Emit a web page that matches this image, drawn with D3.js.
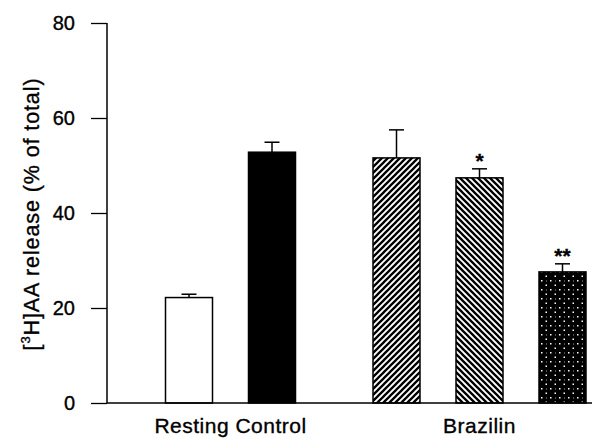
<!DOCTYPE html>
<html>
<head>
<meta charset="utf-8">
<script src="https://cdn.jsdelivr.net/npm/d3@7"></script>
<style>
  body { margin: 0; background: #fff; }
  svg { display: block; font-family: "Liberation Sans", Arial, sans-serif; }
  text { stroke: #000; stroke-width: 0.35px; }
</style>
</head>
<body>
<svg id="chart" width="592" height="439"></svg>
<script>
// values
var groups = ['Resting Control', 'Brazilin'];
var barGroup = ['Resting Control', 'Resting Control', 'Brazilin', 'Brazilin', 'Brazilin'];
var barValues = [22.2, 52.8, 51.6, 47.4, 27.6];
var barErrors = [0.7, 2.1, 5.9, 1.9, 1.7];
var barMarks = ['', '', '', '*', '**'];
var yTicks = [0, 20, 40, 60, 80];

var svg = d3.select('#chart');
var margin = { left: 107, top: 23, bottom: 36 };
var height = 439;

var y = d3.scaleLinear().domain([0, 80]).range([height - margin.bottom, margin.top]);
var x0 = d3.scaleBand().domain(groups).range([106, 604]);
var step = 83, barW = 47;

// patterns for the fills
var defs = svg.append('defs');
var p1 = defs.append('pattern').attr('id', 'hatchR')
  .attr('patternUnits', 'userSpaceOnUse').attr('width', 6).attr('height', 6);
p1.append('rect').attr('width', 6).attr('height', 6).attr('fill', '#fff');
p1.append('path').attr('d', 'M0,6 L6,0 M-1,1 L1,-1 M5,7 L7,5')
  .attr('stroke', '#000').attr('stroke-width', 2.3);

var p2 = defs.append('pattern').attr('id', 'hatchL')
  .attr('patternUnits', 'userSpaceOnUse').attr('width', 6).attr('height', 6);
p2.append('rect').attr('width', 6).attr('height', 6).attr('fill', '#fff');
p2.append('path').attr('d', 'M0,0 L6,6 M-1,5 L1,7 M5,-1 L7,1')
  .attr('stroke', '#000').attr('stroke-width', 2.3);

var p3 = defs.append('pattern').attr('id', 'dots')
  .attr('patternUnits', 'userSpaceOnUse').attr('width', 9).attr('height', 9);
p3.append('rect').attr('width', 9).attr('height', 9).attr('fill', '#000');
p3.append('rect').attr('x', 1).attr('y', 1).attr('width', 1.5).attr('height', 1.5).attr('fill', '#fff');
p3.append('rect').attr('x', 5.5).attr('y', 5.5).attr('width', 1.5).attr('height', 1.5).attr('fill', '#fff');
p3.append('rect').attr('x', 6).attr('y', 1.5).attr('width', 1).attr('height', 1).attr('fill', '#999');

var fills = ['#fff', '#000', 'url(#hatchR)', 'url(#hatchL)', 'url(#dots)'];

// x position of each bar centre
function barX(i) {
  var g = barGroup[i];
  var members = barGroup.map((d, j) => j).filter(j => barGroup[j] == g);
  var k = members.indexOf(i);
  var c = x0(g) + x0.bandwidth() / 2;
  return c + (k - (members.length - 1) / 2) * step;
}

var idx = d3.range(barValues.length);

svg.append('g').selectAll('rect')
  .data(idx)
  .enter()
  .append('rect')
  .attr('x', i => barX(i) - barW / 2)
  .attr('y', i => y(barValues[i]))
  .attr('width', barW)
  .attr('height', i => y(0) - y(barValues[i]))
  .attr('fill', i => fills[i])
  .attr('stroke', '#000')
  .attr('stroke-width', 1.5);

// error bars (upper only)
var eb = svg.append('g').attr('stroke', '#000').attr('stroke-width', 1.5);
idx.forEach(function(i) {
  var cx = barX(i);
  eb.append('line').attr('x1', cx).attr('x2', cx)
    .attr('y1', y(barValues[i])).attr('y2', y(barValues[i] + barErrors[i]));
  eb.append('line').attr('x1', cx - 7.5).attr('x2', cx + 7.5)
    .attr('y1', y(barValues[i] + barErrors[i])).attr('y2', y(barValues[i] + barErrors[i]));
});

// significance marks
svg.append('g').selectAll('text')
  .data(idx.filter(i => barMarks[i]))
  .enter()
  .append('text')
  .attr('x', i => barX(i))
  .attr('y', i => y(barValues[i] + barErrors[i]) - 1)
  .attr('text-anchor', 'middle')
  .attr('font-size', 21)
  .attr('font-weight', 'bold')
  .text(i => barMarks[i]);

// y axis
var yAxis = svg.append('g')
  .attr('transform', `translate(${margin.left},0)`)
  .call(d3.axisLeft(y).tickValues(yTicks).tickSize(16).tickPadding(16));
yAxis.select('.domain').attr('d', `M0,${y(80)}V${y(0)}`).attr('stroke-width', 1.5);
yAxis.selectAll('.tick line').attr('stroke-width', 1.3);
yAxis.selectAll('.tick text')
  .attr('font-size', 20).attr('font-family', '"Liberation Sans", Arial, sans-serif')
  .attr('fill', '#000');

// x axis baseline
svg.append('line')
  .attr('x1', margin.left).attr('x2', 592)
  .attr('y1', y(0)).attr('y2', y(0))
  .attr('stroke', '#000').attr('stroke-width', 1.5);

// group labels
svg.append('g').selectAll('text')
  .data(groups)
  .enter()
  .append('text')
  .attr('x', d => x0(d) + x0.bandwidth() / 2)
  .attr('y', 433)
  .attr('text-anchor', 'middle')
  .attr('font-size', 21)
  .attr('letter-spacing', 0.5)
  .text(d => d);

// y axis title
var yt = svg.append('text')
  .attr('transform', 'translate(39,214) rotate(-90)')
  .attr('text-anchor', 'middle')
  .attr('font-size', 21.5)
  .attr('letter-spacing', 0.9);
yt.append('tspan').text('[');
yt.append('tspan').attr('font-size', 13).attr('dy', -9).text('3');
yt.append('tspan').attr('dy', 9).text('H]AA release (% of total)');
</script>
</body>
</html>
